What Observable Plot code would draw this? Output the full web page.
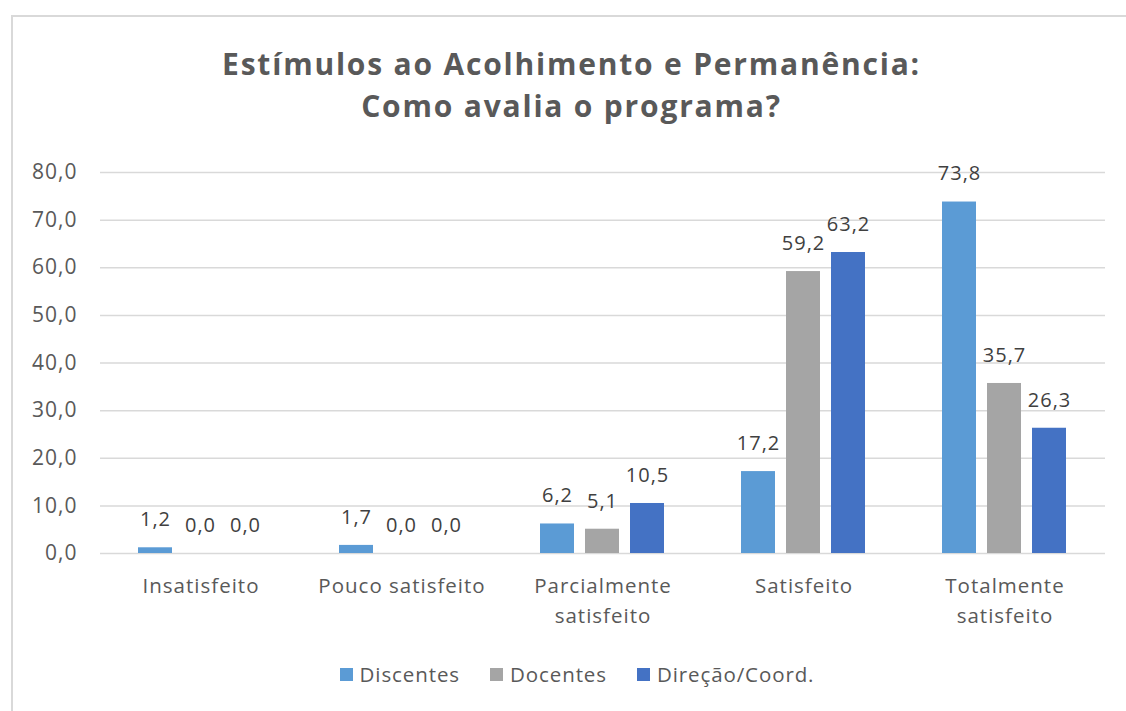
<!DOCTYPE html>
<html>
<head>
<meta charset="utf-8">
<script src="https://cdn.jsdelivr.net/npm/d3@7"></script>
<script src="https://cdn.jsdelivr.net/npm/@observablehq/plot@0.6"></script>
<style>
  html, body { margin: 0; padding: 0; background: #fff; overflow: hidden; }
  #wrap { position: relative; width: 1126px; height: 711px; overflow: hidden; font-family: "Open Sans", sans-serif; }
  #frame { position: absolute; left: 11px; top: 15px; width: 1130px; height: 720px; border: 2px solid #d9d9d9; box-sizing: border-box; }
  #title { position: absolute; left: 0; width: 1143px; top: 43px; text-align: center; font-weight: bold; font-size: 30px; letter-spacing: 1.8px; line-height: 42px; color: #595959; }
  #chart { position: absolute; left: 0; top: 140px; }
  #chart svg text { letter-spacing: 1px; }
  #legend { position: absolute; top: 660px; left: 14px; width: 1126px; display: flex; justify-content: center; font-size: 20.5px; letter-spacing: 0.9px; color: #595959; }
  .item { display: flex; align-items: center; margin: 0 15px; }
  .sw { width: 13px; height: 13px; margin-right: 7px; display: inline-block; }
</style>
</head>
<body>
<div id="wrap">
  <div id="frame"></div>
  <div id="title">Estímulos ao Acolhimento e Permanência:<br>Como avalia o programa?</div>
  <div id="chart"></div>
  <div id="legend"></div>
</div>
<script>
const categories = ["Insatisfeito", "Pouco satisfeito", "Parcialmente\nsatisfeito", "Satisfeito", "Totalmente\nsatisfeito"];
const series = ["Discentes", "Docentes", "Direção/Coord."];
const colors = ["#5B9BD5", "#A5A5A5", "#4472C4"];
const discentes = [1.2, 1.7, 6.2, 17.2, 73.8];
const docentes = [0.0, 0.0, 5.1, 59.2, 35.7];
const direcao = [0.0, 0.0, 10.5, 63.2, 26.3];
const yTicks = [0, 10, 20, 30, 40, 50, 60, 70, 80];

const values = [discentes, docentes, direcao];
const data = [];
categories.forEach((c, i) => {
  series.forEach((s, j) => data.push({cat: c, series: s, value: values[j][i]}));
});
const fmt = v => v.toFixed(1).replace(".", ",");

const plot = Plot.plot({
  width: 1126,
  height: 510,
  marginLeft: 100,
  marginRight: 21,
  marginTop: 32,
  marginBottom: 97,
  style: { fontFamily: "'Open Sans', sans-serif", fontSize: "21px", color: "#595959", background: "transparent" },
  fx: { domain: categories, padding: 0, axis: null, label: null },
  x: { domain: series, paddingInner: 0.244, paddingOuter: 0.855, axis: null, label: null },
  y: { domain: [0, 80], ticks: yTicks, tickFormat: fmt, tickSize: 0, tickPadding: 23, label: null },
  color: { domain: series, range: colors },
  marks: [
    Plot.ruleY(yTicks, { stroke: "#d9d9d9", strokeWidth: 1.5 }),
    Plot.barY(data, { fx: "cat", x: "series", y: "value", fill: "series" }),
    Plot.text(data, { fx: "cat", x: "series", y: "value", text: d => fmt(d.value), dy: -28, fill: "#404040", fontSize: 20 }),
    Plot.text(categories, { fx: d => d, frameAnchor: "bottom", lineAnchor: "top", dy: 18, text: d => d, fill: "#595959", fontSize: 20.5, lineHeight: 1.46 })
  ]
});
document.getElementById("chart").appendChild(plot);

const legend = document.getElementById("legend");
series.forEach((s, i) => {
  const it = document.createElement("div");
  it.className = "item";
  it.innerHTML = `<span class="sw" style="background:${colors[i]}"></span><span>${s}</span>`;
  legend.appendChild(it);
});
</script>
</body>
</html>
